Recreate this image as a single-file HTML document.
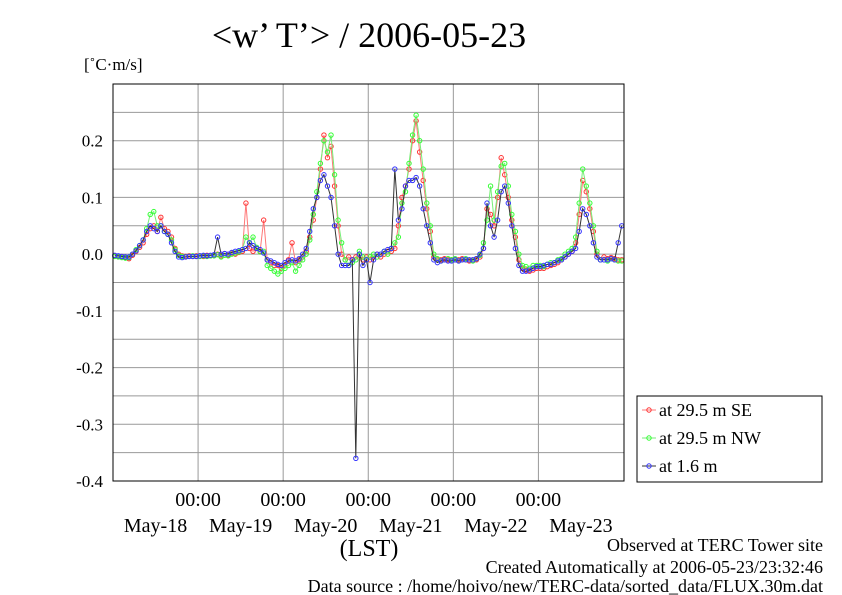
<!DOCTYPE html>
<html><head><meta charset="utf-8"><style>
body{margin:0;background:#fff;}
svg{display:block;font-family:"Liberation Serif",serif;}
</style></head><body>
<svg id="chart" width="842" height="595" viewBox="0 0 842 595">
<text x="369" y="47" font-size="36" text-anchor="middle">&lt;w’ T’&gt; / 2006-05-23</text>
<text x="84" y="70" font-size="17">[˚C·m/s]</text>
<g id="grid"></g>
<g id="yticks"></g>
<g id="xticks"></g>
<g id="series"></g>
<rect x="113" y="84" width="511" height="397" fill="none" stroke="#000" stroke-width="1"/>
<text x="369" y="556" font-size="24" text-anchor="middle">(LST)</text>
<text x="823" y="551" font-size="18" text-anchor="end">Observed at TERC Tower site</text>
<text x="823" y="573" font-size="18" text-anchor="end">Created Automatically at 2006-05-23/23:32:46</text>
<text x="823" y="596" font-size="18" text-anchor="end" dy="-4">Data source : /home/hoivo/new/TERC-data/sorted_data/FLUX.30m.dat</text>
<g>
<rect x="637" y="396" width="185" height="86" fill="#fff" stroke="#000"/>
<g id="legend"></g>
</g>
</svg>
<script>
const yTicks=[0.2,0.1,0.0,-0.1,-0.2,-0.3,-0.4];
const yTickLabels=["0.2","0.1","0.0","-0.1","-0.2","-0.3","-0.4"];
const dayLabels=["May-18","May-19","May-20","May-21","May-22","May-23"];
const seriesNames=["at 29.5 m SE","at 29.5 m NW","at 1.6 m"];
const seSE=[
-0.003,-0.004,-0.005,-0.006,-0.008,-0.002,0.005,0.012,0.02,0.035,0.045,0.05,0.04,0.065,0.045,0.04,0.03,0.01,0.0,-0.003,-0.004,-0.003,-0.004,-0.003,
-0.003,-0.004,-0.002,-0.003,-0.002,0.0,-0.003,0.001,-0.002,0.002,0.0,0.003,0.005,0.09,0.01,0.005,0.01,0.005,0.06,-0.01,-0.015,-0.02,-0.02,-0.025,
-0.02,-0.01,0.02,-0.015,-0.01,-0.005,0.005,0.03,0.06,0.1,0.15,0.21,0.17,0.19,0.12,0.05,0.0,-0.01,-0.005,-0.01,-0.005,0.0,-0.01,-0.005,
-0.01,-0.005,0.0,-0.005,0.0,0.005,0.005,0.01,0.05,0.1,0.12,0.15,0.2,0.235,0.18,0.13,0.08,0.04,-0.005,-0.01,-0.01,-0.008,-0.01,-0.01,
-0.01,-0.01,-0.008,-0.01,-0.012,-0.01,-0.01,-0.005,0.01,0.08,0.07,0.05,0.1,0.17,0.14,0.1,0.06,0.03,-0.01,-0.025,-0.028,-0.03,-0.028,-0.025,
-0.025,-0.025,-0.022,-0.02,-0.018,-0.015,-0.01,-0.005,0.0,0.005,0.02,0.07,0.13,0.11,0.08,0.04,0.0,-0.01,-0.005,-0.008,-0.006,-0.008,-0.01,-0.01];
const seNW=[
-0.004,-0.005,-0.006,-0.007,-0.006,0.0,0.008,0.015,0.025,0.045,0.07,0.075,0.05,0.05,0.04,0.035,0.025,0.008,-0.002,-0.004,-0.005,-0.004,-0.003,-0.004,
-0.004,-0.003,-0.004,-0.003,-0.003,-0.001,-0.005,-0.002,-0.003,0.0,0.002,0.004,0.008,0.03,0.02,0.03,0.012,0.004,0.005,-0.02,-0.025,-0.03,-0.035,-0.03,
-0.025,-0.02,-0.015,-0.03,-0.02,-0.01,0.0,0.025,0.07,0.11,0.16,0.2,0.18,0.21,0.14,0.06,0.02,-0.01,-0.02,-0.015,-0.01,0.005,-0.005,-0.01,
-0.005,0.0,-0.005,0.0,0.005,0.0,0.01,0.02,0.03,0.09,0.11,0.16,0.21,0.245,0.2,0.15,0.09,0.05,0.0,-0.008,-0.012,-0.01,-0.008,-0.01,
-0.008,-0.012,-0.01,-0.008,-0.01,-0.012,-0.008,-0.002,0.02,0.06,0.12,0.06,0.11,0.155,0.16,0.12,0.07,0.04,0.0,-0.02,-0.022,-0.025,-0.02,-0.02,
-0.02,-0.022,-0.018,-0.015,-0.015,-0.01,-0.008,0.0,0.005,0.01,0.03,0.09,0.15,0.12,0.09,0.05,0.005,-0.01,-0.01,-0.012,-0.008,-0.01,-0.012,-0.012];
const seLow=[
-0.002,-0.003,-0.004,-0.005,-0.005,0.0,0.006,0.015,0.025,0.04,0.05,0.045,0.04,0.05,0.04,0.035,0.02,0.005,-0.005,-0.006,-0.005,-0.004,-0.004,-0.004,
-0.003,-0.002,-0.003,-0.002,-0.001,0.03,0.0,0.001,0.0,0.003,0.005,0.006,0.008,0.01,0.02,0.015,0.01,0.008,0.002,-0.01,-0.012,-0.015,-0.018,-0.02,
-0.015,-0.012,-0.01,-0.012,-0.008,0.0,0.01,0.04,0.08,0.1,0.13,0.14,0.12,0.1,0.05,0.0,-0.02,-0.02,-0.02,-0.01,-0.36,0.0,-0.02,-0.01,
-0.05,-0.01,0.0,0.0,0.005,0.008,0.01,0.15,0.06,0.08,0.12,0.13,0.13,0.135,0.12,0.08,0.05,0.02,-0.01,-0.015,-0.012,-0.01,-0.012,-0.012,
-0.01,-0.012,-0.01,-0.01,-0.01,-0.01,-0.008,0.0,0.01,0.09,0.05,0.03,0.06,0.11,0.12,0.09,0.05,0.01,-0.02,-0.03,-0.03,-0.028,-0.025,-0.022,
-0.022,-0.02,-0.018,-0.018,-0.015,-0.012,-0.01,-0.005,0.0,0.005,0.01,0.04,0.08,0.07,0.05,0.02,-0.005,-0.01,-0.01,-0.01,-0.008,-0.01,0.02,0.05];
const NS="http://www.w3.org/2000/svg";
const X0=113,X1=623.5,Y0=84,Y1=481,vMin=-0.4,vMax=0.3,hours=144;
const xs=h=>X0+h*(X1-X0)/hours;
const ys=v=>Y1-(v-vMin)*(Y1-Y0)/(vMax-vMin);
function mk(tag,attrs,parent){const e=document.createElementNS(NS,tag);for(const k in attrs)e.setAttribute(k,attrs[k]);parent.appendChild(e);return e;}
const grid=document.getElementById('grid');
for(let i=1;i<14;i++){const v=vMin+i*0.05;const l=mk('line',{x1:X0,x2:X1,y1:ys(v),y2:ys(v),stroke:'#999','stroke-width':1},grid);

}
for(let d=1;d<6;d++){const l=mk('line',{x1:xs(d*24),x2:xs(d*24),y1:Y0,y2:Y1,stroke:'#999','stroke-width':1},grid);

}
const yt=document.getElementById('yticks');
yTicks.forEach((v,i)=>{const t=mk('text',{x:103,y:ys(v)+6,'font-size':17,'text-anchor':'end'},yt);t.textContent=yTickLabels[i];

});
const xt=document.getElementById('xticks');
for(let d=1;d<6;d++){const t=mk('text',{x:xs(d*24),y:506,'font-size':20,'text-anchor':'middle'},xt);t.textContent='00:00';

}
dayLabels.forEach((s,d)=>{const t=mk('text',{x:xs(d*24+12),y:532,'font-size':20,'text-anchor':'middle'},xt);t.textContent=s;

});
const colors=[['#f33','#f77'],['#3f3','#7e7'],['#33f','#333']];
const all=[seSE,seNW,seLow];
const sg=document.getElementById('series');
all.forEach((arr,si)=>{const g=mk('g',{},sg);


const pts=arr.map((v,h)=>xs(h+0.5).toFixed(1)+','+ys(v).toFixed(1)).join(' ');
const pl=mk('polyline',{points:pts,fill:'none',stroke:colors[si][1],'stroke-width':1},g);


arr.forEach((v,h)=>{const c=mk('circle',{cx:xs(h+0.5),cy:ys(v),r:2.2,fill:'none',stroke:colors[si][0],'stroke-width':1},g);

});});
const lg=document.getElementById('legend');
seriesNames.forEach((n,i)=>{const y=410+i*28;
const l=mk('line',{x1:642,x2:656,y1:y,y2:y,stroke:colors[i][1],'stroke-width':1},lg);


const c=mk('circle',{cx:649,cy:y,r:2.2,fill:'none',stroke:colors[i][0],'stroke-width':1},lg);


const t=mk('text',{x:659,y:y+6,'font-size':18},lg);t.textContent=n;

});
</script>
</body></html>
